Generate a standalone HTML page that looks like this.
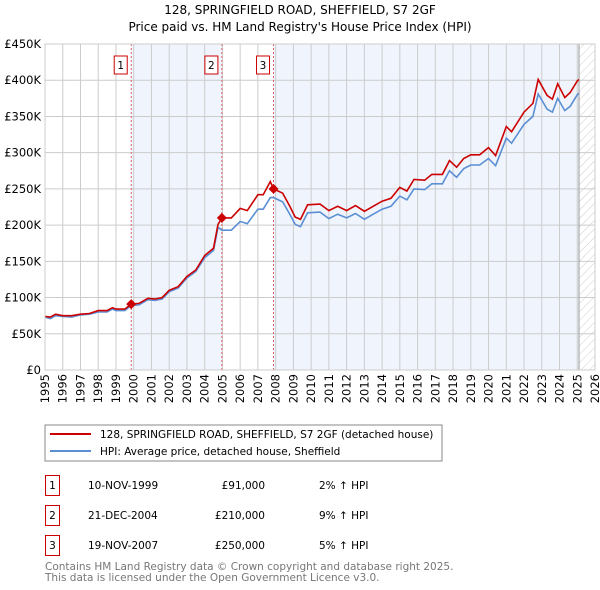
<!DOCTYPE html>
<html><head><meta charset="utf-8"><style>
body{margin:0;background:#fff;}
svg{display:block;font-family:"DejaVu Sans","Liberation Sans",sans-serif;}
</style></head><body>
<svg id="chart" width="600" height="590" viewBox="0 0 600 590">
<defs><pattern id="hatch" width="6" height="6" patternUnits="userSpaceOnUse" patternTransform="rotate(45)"><line x1="0" y1="0" x2="0" y2="6" stroke="#ccc" stroke-width="1"/></pattern></defs>
<text x="300" y="14" text-anchor="middle" font-size="12">128, SPRINGFIELD ROAD, SHEFFIELD, S7 2GF</text>
<text x="300" y="31" text-anchor="middle" font-size="12">Price paid vs. HM Land Registry's House Price Index (HPI)</text>
<g id="plot"></g>
<rect x="45" y="425" width="397" height="36" fill="#fff" stroke="#888"/>
<line x1="50" y1="434" x2="91" y2="434" stroke="#cc0000" stroke-width="2"/>
<text x="100" y="438" font-size="10.5">128, SPRINGFIELD ROAD, SHEFFIELD, S7 2GF (detached house)</text>
<line x1="50" y1="451" x2="91" y2="451" stroke="#5b8fd4" stroke-width="2"/>
<text x="100" y="455" font-size="10.5">HPI: Average price, detached house, Sheffield</text>
<g font-size="10.5">
<rect x="45.5" y="475.5" width="14" height="20" fill="#fff" stroke="#cc0000"/><text x="52.5" y="489" text-anchor="middle">1</text>
<text x="88" y="489">10-NOV-1999</text><text x="265" y="489" text-anchor="end">£91,000</text><text x="319" y="489">2% ↑ HPI</text>
<rect x="45.5" y="505.5" width="14" height="20" fill="#fff" stroke="#cc0000"/><text x="52.5" y="519" text-anchor="middle">2</text>
<text x="88" y="519">21-DEC-2004</text><text x="265" y="519" text-anchor="end">£210,000</text><text x="319" y="519">9% ↑ HPI</text>
<rect x="45.5" y="535.5" width="14" height="20" fill="#fff" stroke="#cc0000"/><text x="52.5" y="549" text-anchor="middle">3</text>
<text x="88" y="549">19-NOV-2007</text><text x="265" y="549" text-anchor="end">£250,000</text><text x="319" y="549">5% ↑ HPI</text>
</g>
<text x="45" y="570" font-size="10.5" fill="#777">Contains HM Land Registry data © Crown copyright and database right 2025.</text>
<text x="45" y="581" font-size="10.5" fill="#777">This data is licensed under the Open Government Licence v3.0.</text>
</svg>
<script>
const years=[1995.0,1995.3,1995.6,1996.0,1996.5,1997.0,1997.5,1998.0,1998.5,1998.8,1999.0,1999.5,1999.86,2000.3,2000.8,2001.2,2001.6,2002.0,2002.5,2003.0,2003.5,2004.0,2004.5,2004.75,2004.97,2005.5,2006.0,2006.4,2007.0,2007.3,2007.7,2007.88,2008.4,2008.8,2009.1,2009.4,2009.8,2010.5,2011.0,2011.5,2012.0,2012.5,2013.0,2013.5,2014.0,2014.5,2015.0,2015.4,2015.8,2016.4,2016.8,2017.4,2017.8,2018.2,2018.6,2019.0,2019.5,2020.0,2020.4,2021.0,2021.3,2022.0,2022.5,2022.8,2023.3,2023.6,2023.9,2024.3,2024.6,2025.0,2025.1];
const hpiValues=[73,71,75,74,73,76,77,80,80,84,82,82,89,90,97,96,98,108,113,127,136,155,165,197,193,193,205,202,222,222,238,238,232,215,201,198,217,218,209,215,210,216,208,215,222,226,240,235,250,249,257,257,275,266,278,283,283,292,282,320,313,339,350,381,360,356,375,358,364,380,382];
const priceValues=[74,73,77,75,75,77,78,82,82,86,84,84,91,92,99,98,100,110,115,129,138,158,168,201,210,210,223,220,242,242,260,250,244,226,211,208,228,229,220,226,220,227,219,226,233,237,252,247,263,262,270,270,289,280,292,297,297,307,296,336,329,356,368,401,379,374,395,376,383,399,401];
const saleYears=[1999.86,2004.97,2007.88];
const salePrices=[91,210,250];
const saleLabels=["1","2","3"];
const yTicks=[0,50,100,150,200,250,300,350,400,450];
const yTickLabels=["£0","£50K","£100K","£150K","£200K","£250K","£300K","£350K","£400K","£450K"];
const xTicks=[1995,1996,1997,1998,1999,2000,2001,2002,2003,2004,2005,2006,2007,2008,2009,2010,2011,2012,2013,2014,2015,2016,2017,2018,2019,2020,2021,2022,2023,2024,2025,2026];

const L=45,R=595,T=44,B=370,X0=1995,X1=2026,YMAX=450,DATA_END=2025.1;
const xs=v=>L+(v-X0)/(X1-X0)*(R-L);
const ys=v=>B-v/YMAX*(B-T);
const NS="http://www.w3.org/2000/svg";
const g=document.getElementById('plot');
function mk(tag,attrs,parent){const e=document.createElementNS(NS,tag);for(const k in attrs)e.setAttribute(k,attrs[k]);(parent||g).appendChild(e);return e;}

let e=mk('rect',{x:L,y:T,width:R-L,height:B-T,fill:'#fff'});


const shades=[[saleYears[0],saleYears[1]],[saleYears[2],DATA_END]];
shades.forEach(s=>{
  const r=mk('rect',{x:xs(s[0]),y:T,width:xs(s[1])-xs(s[0]),height:B-T,fill:'#f0f4fd'});
  
  
});
e=mk('rect',{x:xs(DATA_END),y:T,width:R-xs(DATA_END),height:B-T,fill:'url(#hatch)'});


yTicks.forEach((t,i)=>{
  const l=mk('line',{x1:L,x2:R,y1:ys(t),y2:ys(t),stroke:'#ccc','stroke-width':1});
  
  
  const tx=mk('text',{x:L-4,y:ys(t)+4,'text-anchor':'end','font-size':'11.5'});
  tx.textContent=yTickLabels[i];
  
  
});
xTicks.forEach(t=>{
  const l=mk('line',{x1:xs(t),x2:xs(t),y1:T,y2:B,stroke:'#ccc','stroke-width':1});
  
  
  const tx=mk('text',{x:0,y:0,'text-anchor':'end','font-size':'11.5',transform:`translate(${xs(t)+4},${B+4}) rotate(-90)`});
  tx.textContent=t;
  
  
});
e=mk('line',{x1:xs(DATA_END),x2:xs(DATA_END),y1:T,y2:B,stroke:'#999','stroke-width':1});


saleYears.forEach((sy,i)=>{
  const l=mk('line',{x1:xs(sy),x2:xs(sy),y1:T,y2:B,stroke:'#e06060','stroke-width':1,'stroke-dasharray':'2,2'});
  
  
  const bx=mk('rect',{x:xs(sy)-17,y:56,width:13,height:18,fill:'#fff',stroke:'#cc0000'});
  
  
  const tx=mk('text',{x:xs(sy)-10.5,y:69,'text-anchor':'middle','font-size':'10.5'});
  tx.textContent=saleLabels[i];
  
  
});
const path=vals=>vals.map((v,i)=>(i?'L':'M')+xs(years[i]).toFixed(1)+','+ys(v).toFixed(1)).join('');
e=mk('path',{d:path(hpiValues),fill:'none',stroke:'#5b8fd4','stroke-width':1.6});


e=mk('path',{d:path(priceValues),fill:'none',stroke:'#cc0000','stroke-width':1.6});


saleYears.forEach((sy,i)=>{
  const cx=xs(sy),cy=ys(salePrices[i]);
  const p=mk('path',{d:`M${cx},${cy-5}L${cx+5},${cy}L${cx},${cy+5}L${cx-5},${cy}Z`,fill:'#cc0000'});
  
  
});
e=mk('rect',{x:L,y:T,width:R-L,height:B-T,fill:'none',stroke:'#ccc'});


</script>
</body></html>
